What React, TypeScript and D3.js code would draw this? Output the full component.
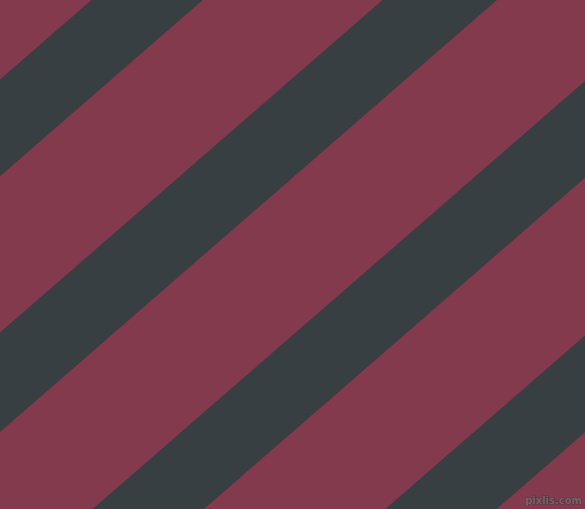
import React, { useEffect, useRef } from 'react';
import * as d3 from 'd3';

// offsets of each dark band, measured along the normal of the stripe direction
const stripeStarts = [60, 251, 445, 637];
const stripeWidths = [73, 75, 73, 73];
const stripeAngle = 41; // degrees above horizontal
const watermark = 'pixlis.com';

const App: React.FC = () => {
  const svgRef = useRef<SVGSVGElement>(null);

  useEffect(() => {
    document.body.style.margin = '0';
    if (!svgRef.current) return;
    const width = 585;
    const height = 509;
    const svg = d3.select(svgRef.current);
    svg.selectAll('*').remove();
    svg.attr('width', width).attr('height', height);

    // background
    svg.append('rect')
      .attr('width', width)
      .attr('height', height)
      .attr('fill', '#823A4C');

    // offset scale (pixels along the normal)
    const s = d3.scaleLinear().domain([0, 800]).range([0, 800]);

    const g = svg.append('g')
      .attr('transform', `rotate(${90 - stripeAngle})`);

    g.selectAll('rect.band')
      .data(stripeStarts)
      .enter()
      .append('rect')
      .attr('class', 'band')
      .attr('x', d => s(d))
      .attr('width', (d, i) => s(d + stripeWidths[i]) - s(d))
      .attr('y', -1200)
      .attr('height', 2400)
      .attr('fill', '#373F43')
      .attr('shape-rendering', 'geometricPrecision');

    // watermark
    svg.append('text')
      .attr('x', width - 3)
      .attr('y', height - 5)
      .attr('text-anchor', 'end')
      .style('font-family', 'DejaVu Sans, sans-serif')
      .style('font-size', '10px')
      .style('font-weight', 'bold')
      .style('fill', '#76646b')
      .style('stroke', '#3c2c32')
      .style('stroke-width', '0.7px')
      .style('paint-order', 'stroke')
      .text(watermark);
  }, []);

  return <svg ref={svgRef} style={{ display: 'block', position: 'fixed', top: 0, left: 0 }}></svg>;
};

export default App;
